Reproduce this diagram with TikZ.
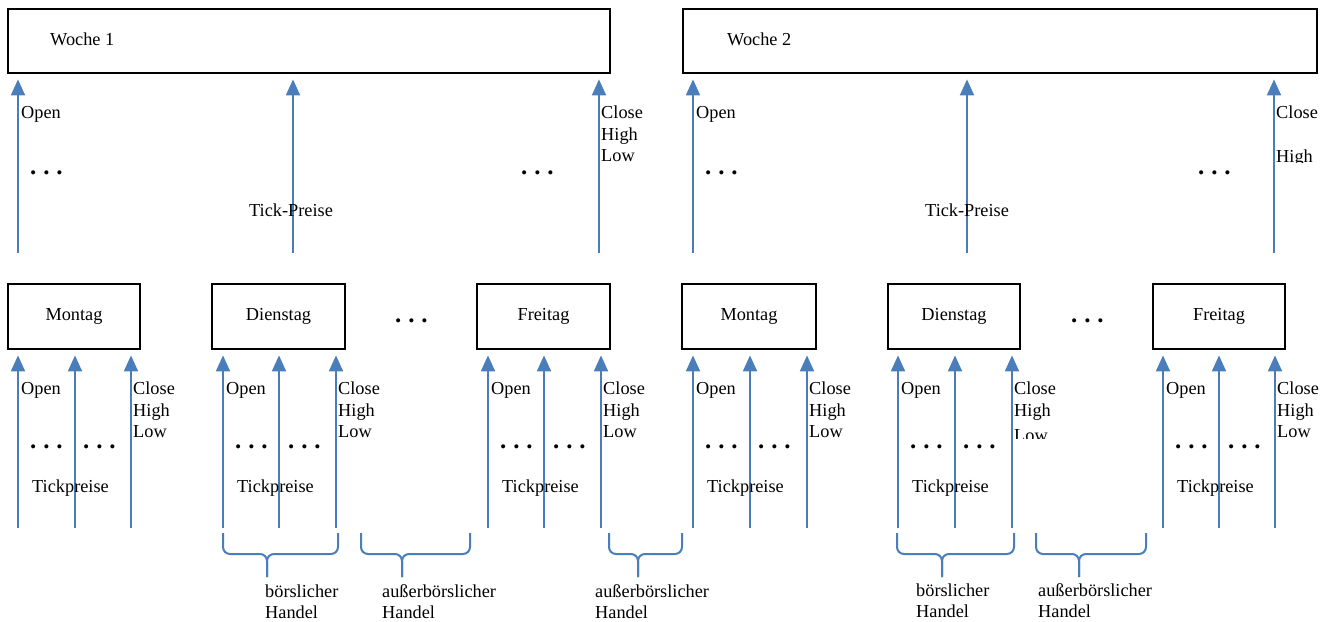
\documentclass[tikz,border=0pt]{standalone}
\usepackage{fontspec}
\setmainfont{Liberation Serif}
\usetikzlibrary{arrows.meta}
\definecolor{arrowblue}{RGB}{74,126,187}
\tikzset{
  box/.style={draw=black, line width=2.8pt, inner sep=0pt, minimum height=65pt},
  daybox/.style={box, minimum width=133pt, font=\fontsize{18.3}{22}\selectfont},
  arr/.style={draw=arrowblue, line width=2pt, -{Triangle[width=14pt,length=16pt]}, shorten >=5pt},
  lbl/.style={inner sep=0pt, anchor=base west, font=\fontsize{18.3}{22}\selectfont},
  dots/.style={inner sep=0pt, anchor=base west, font=\fontsize{25}{26}\selectfont\bfseries},
  brace/.style={draw=arrowblue, line width=2pt, rounded corners=7pt},
}
\newcommand{\threedots}{.\hspace{6.8pt}.\hspace{6.8pt}.}
\begin{document}
\begin{tikzpicture}[x=1pt,y=-1pt]
\useasboundingbox (0,0) rectangle (1333,621);
% ---------- week boxes ----------
\node[box, minimum width=602pt, minimum height=64pt] (W1) at (309,41) {};
\node[box, minimum width=634pt, minimum height=64pt] (W2) at (1000,41) {};
\node[lbl] (w1t) at (50,45) {Woche 1};
\node[lbl] (w2t) at (727,45) {Woche 2};
% ---------- week arrows ----------
\foreach \n/\x in {a1/18, a2/293, a3/599}{
  \coordinate (\n) at (\x,253);
  \draw[arr] (\n) -- (\n |- W1.south);
}
\foreach \n/\x in {b1/693, b2/967, b3/1274}{
  \coordinate (\n) at (\x,253);
  \draw[arr] (\n) -- (\n |- W2.south);
}
% week 1 labels
\node[lbl] (w1o) at (21,118) {Open};
\node[lbl] (w1c) at (601,118) {Close};
\node[lbl] (w1h) at (601,140) {High};
\node[lbl] (w1l) at (601,161) {Low};
\node[dots] (w1d1) at (30,174) {\threedots};
\node[dots] (w1d2) at (521,174) {\threedots};
\node[lbl] (w1tp) at (249,216) {Tick-Preise};
% week 2 labels
\node[lbl] (w2o) at (696,118) {Open};
\node[lbl] (w2c) at (1276,118) {Close};
\begin{scope}
  \clip (1270,100) rectangle (1333,162);
  \node[lbl] (w2h) at (1276,162) {High};
\end{scope}
\node[dots] (w2d1) at (705,174) {\threedots};
\node[dots] (w2d2) at (1198,174) {\threedots};
\node[lbl] (w2tp) at (925,216) {Tick-Preise};
% ---------- day boxes ----------
\node[daybox, minimum width=132pt] (mo1) at (74,316.5) {Montag};
\node[daybox] (di1) at (278.5,316.5) {Dienstag};
\node[daybox] (fr1) at (543.5,316.5) {Freitag};
\node[daybox, minimum width=134pt] (mo2) at (749,316.5) {Montag};
\node[daybox, minimum width=132pt] (di2) at (954,316.5) {Dienstag};
\node[daybox, minimum width=132pt] (fr2) at (1219,316.5) {Freitag};
\node[dots] (gap1) at (395,322) {\threedots};
\node[dots] (gap2) at (1071,322) {\threedots};
% ---------- day arrows and labels ----------
\foreach \d/\xa/\xb/\xc in {mo1/18/75/131, di1/223/279/336, fr1/488/544/601, mo2/693/750/807, di2/898/955/1012, fr2/1163/1219/1275}{
  \coordinate (\d-p1) at (\xa,528);
  \coordinate (\d-p2) at (\xb,528);
  \coordinate (\d-p3) at (\xc,528);
  \draw[arr] (\d-p1) -- (\d-p1 |- \d.south);
  \draw[arr] (\d-p2) -- (\d-p2 |- \d.south);
  \draw[arr] (\d-p3) -- (\d-p3 |- \d.south);
  \node[lbl] (\d-open) at (\xa+3,394) {Open};
  \node[dots] (\d-dotsA) at (\xa+12,448) {\threedots};
  \node[dots] (\d-dotsB) at (\xa+65,448) {\threedots};
  \node[lbl] (\d-tick) at (\xa+14,492) {Tickpreise};
  \node[lbl] (\d-close) at (\xc+2,394) {Close};
  \node[lbl] (\d-high) at (\xc+2,416) {High};
}
\foreach \d/\xc in {mo1/131, di1/336, fr1/601, mo2/807, fr2/1275}{
  \node[lbl] (\d-low) at (\xc+2,437.5) {Low};
}
\begin{scope}
  \clip (1005,420) rectangle (1070,438);
  \node[lbl] (di2-low) at (1014,441) {Low};
\end{scope}
% ---------- braces ----------
\coordinate (br1L) at (223,533); \coordinate (br1R) at (338,533); \coordinate (br1T) at (267,577);
\coordinate (br2L) at (361,533); \coordinate (br2R) at (470,533); \coordinate (br2T) at (402,577);
\coordinate (br3L) at (609,533); \coordinate (br3R) at (682,533); \coordinate (br3T) at (638,577);
\coordinate (br4L) at (897,533); \coordinate (br4R) at (1014,533); \coordinate (br4T) at (942,577);
\coordinate (br5L) at (1036,533); \coordinate (br5R) at (1146,533); \coordinate (br5T) at (1079,577);
\foreach \b in {br1,br2,br3,br4,br5}{
  \draw[brace] (\b L) -- (\b L |- 0,554) -- (\b T |- 0,554) -- (\b T);
  \draw[brace] (\b R) -- (\b R |- 0,554) -- (\b T |- 0,554) -- (\b T);
}
\node[lbl] (h1a) at (265,597) {börslicher};
\node[lbl] (h1b) at (265,618) {Handel};
\node[lbl] (h2a) at (382,597) {außerbörslicher};
\node[lbl] (h2b) at (382,618) {Handel};
\node[lbl] (h3a) at (595,597) {außerbörslicher};
\node[lbl] (h3b) at (595,618) {Handel};
\node[lbl] (h4a) at (916,596) {börslicher};
\node[lbl] (h4b) at (916,617) {Handel};
\node[lbl] (h5a) at (1038,596) {außerbörslicher};
\node[lbl] (h5b) at (1038,617) {Handel};
\end{tikzpicture}
\end{document}
